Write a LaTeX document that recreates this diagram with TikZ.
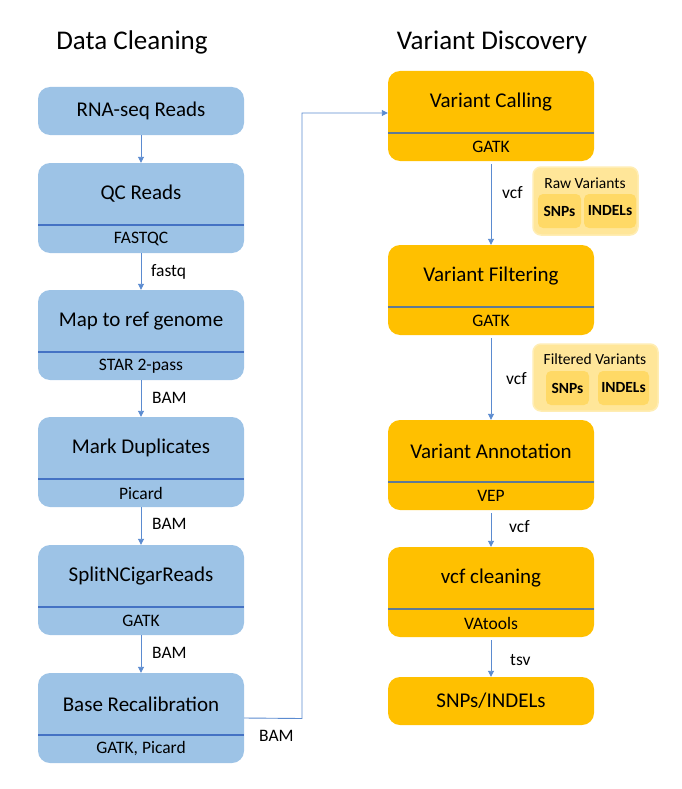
\documentclass[tikz,border=0pt]{standalone}
\usepackage{fontspec}
\setmainfont{Carlito}
\usetikzlibrary{arrows.meta}
\definecolor{bfill}{HTML}{9DC3E6}
\definecolor{bline}{HTML}{4472C4}
\definecolor{yfill}{HTML}{FFC000}
\definecolor{yline}{HTML}{5F7A94}
\definecolor{pfill}{HTML}{FFE699}
\definecolor{pin}{HTML}{FFD966}
\definecolor{pedge}{HTML}{FFEDB3}
\definecolor{aline}{HTML}{5B8BD0}
\newcommand{\mkstage}[6]{%
  \node[#4, minimum height=90pt] (#1) at (#2, #3+45) {};
  \node[maintxt] (#1-t) at (#2, #3+31) {#5};
  \draw[#4div] (#2-103, #3+62) -- (#2+103, #3+62);
  \node[subtxt] (#1-s) at (#2, #3+76) {#6};
}
\begin{document}
\begin{tikzpicture}[x=1pt,y=-1pt,
  bbox/.style={rectangle, rounded corners=12pt, fill=bfill, minimum width=206pt, inner sep=0pt},
  ybox/.style={rectangle, rounded corners=12pt, fill=yfill, minimum width=206pt, inner sep=0pt},
  bboxdiv/.style={draw=bline, line width=1.6pt},
  yboxdiv/.style={draw=yline, line width=1.6pt},
  maintxt/.style={font=\fontsize{21}{25}\selectfont, inner sep=0pt},
  subtxt/.style={font=\fontsize{17.5}{20}\selectfont, inner sep=0pt},
  lbl/.style={font=\fontsize{17.5}{20}\selectfont, inner sep=0pt, anchor=west},
  title/.style={font=\fontsize{27}{31}\selectfont, inner sep=0pt},
  arr/.style={draw=aline, line width=0.9pt, -{Triangle[width=6pt,length=6pt]}},
  grp/.style={rectangle, rounded corners=8pt, fill=pfill, draw=pedge, line width=1.5pt, inner sep=0pt},
  inbox/.style={rectangle, rounded corners=5pt, fill=pin, inner sep=0pt, font=\fontsize{15.5}{18}\selectfont\bfseries},
  grptxt/.style={font=\fontsize{15.5}{18}\selectfont, inner sep=0pt}
]
\useasboundingbox (0,0) rectangle (682,789);

% titles
\node[title] (t1) at (132,42) {Data Cleaning};
\node[title] (t2) at (492,42) {Variant Discovery};

% left column
\node[bbox, minimum height=48pt] (rna) at (141,111) {};
\node[maintxt] (rna-t) at (141,111) {RNA-seq Reads};
\mkstage{qc}{141}{163}{bbox}{QC Reads}{FASTQC}
\mkstage{map}{141}{290}{bbox}{Map to ref genome}{STAR 2-pass}
\mkstage{md}{141}{417}{bbox}{Mark Duplicates}{Picard}
\mkstage{split}{141}{545}{bbox}{SplitNCigarReads}{GATK}
\mkstage{base}{141}{673}{bbox}{Base Recalibration}{GATK, Picard}

% right column
\mkstage{vc}{491}{71}{ybox}{Variant Calling}{GATK}
\mkstage{vf}{491}{245}{ybox}{Variant Filtering}{GATK}
\mkstage{va}{491}{420}{ybox}{Variant Annotation}{VEP}
\mkstage{vcl}{491}{547}{ybox}{vcf cleaning}{VAtools}
\node[ybox, minimum height=48pt] (out) at (491,701) {};
\node[maintxt] (out-t) at (491,701) {SNPs/INDELs};

% left arrows
\draw[arr] (rna) -- (qc);
\draw[arr] (qc) -- (map);
\draw[arr] (map) -- (md);
\draw[arr] (md) -- (split);
\draw[arr] (split) -- (base);

% right arrows
\draw[arr, shorten <=3pt] (vc) -- (vf);
\draw[arr, shorten <=3pt] (vf) -- (va);
\draw[arr, shorten <=3pt] (va) -- (vcl);
\draw[arr, shorten <=3pt] (vcl) -- (out);

% cross connector
\coordinate (bend) at (302,718.5);
\draw[arr] (base.east) -- (bend) |- ([yshift=3pt]vc.west);

% labels
\node[lbl] (l1) at (151,272) {fastq};
\node[lbl] (l2) at (152,398) {BAM};
\node[lbl] (l3) at (152,524) {BAM};
\node[lbl] (l4) at (152,653) {BAM};
\node[lbl] (l5) at (259,736) {BAM};
\node[lbl] (r1) at (502,193) {vcf};
\node[lbl] (r2) at (506,379) {vcf};
\node[lbl] (r3) at (509,527) {vcf};
\node[lbl] (r4) at (510,660) {tsv};

% raw variants group
\node[grp, minimum width=105pt, minimum height=68pt] (raw) at (585.5,201) {};
\node[grptxt] (raw-t) at (585,183) {Raw Variants};
\node[inbox, minimum width=43pt, minimum height=34pt] (raw-snp) at (559.5,211) {SNPs};
\node[inbox, minimum width=52pt, minimum height=34pt] (raw-ind) at (610,211) {INDELs};

% filtered variants group
\node[grp, minimum width=125pt, minimum height=67pt] (filt) at (595.5,377.5) {};
\node[grptxt] (filt-t) at (595,359) {Filtered Variants};
\node[inbox, minimum width=43pt, minimum height=34pt] (filt-snp) at (567.5,388) {SNPs};
\node[inbox, minimum width=51pt, minimum height=34pt] (filt-ind) at (623.5,388) {INDELs};
\end{tikzpicture}
\end{document}
